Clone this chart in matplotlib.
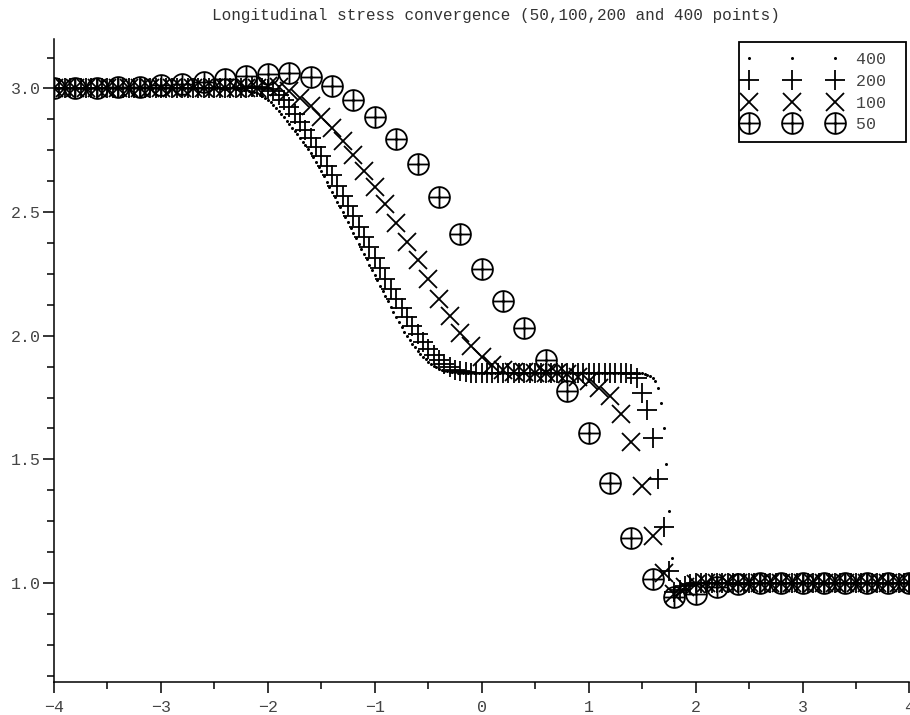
import numpy as np
import matplotlib
matplotlib.use("Agg")
import matplotlib.pyplot as plt
from matplotlib.path import Path
from matplotlib.lines import Line2D
from matplotlib.legend_handler import HandlerLine2D
from matplotlib.ticker import MultipleLocator, FormatStrFormatter

plt.rcParams["font.family"] = ["Liberation Mono", "DejaVu Sans Mono"]

title = "Longitudinal stress convergence (50,100,200 and 400 points)"
labels = ["400", "200", "100", "50"]

# 400 points, dx = 0.025 on [-4, 4]
stress_400 = (
    [3.0] * 68
    + [2.998, 2.997, 2.996, 2.994, 2.993, 2.990, 2.987, 2.984, 2.980, 2.975,
       2.969, 2.962, 2.955, 2.945, 2.934, 2.922, 2.910, 2.897, 2.883, 2.869,
       2.855, 2.841, 2.828, 2.814, 2.800, 2.785, 2.770, 2.755, 2.740, 2.722,
       2.703, 2.684, 2.665, 2.644, 2.623, 2.601, 2.580, 2.560, 2.540, 2.520,
       2.500, 2.479, 2.458, 2.436, 2.415, 2.394, 2.372, 2.351, 2.330, 2.309,
       2.288, 2.266, 2.245, 2.224, 2.203, 2.181, 2.160, 2.139, 2.118, 2.096,
       2.075, 2.055, 2.036, 2.017, 2.000, 1.984, 1.968, 1.953, 1.940, 1.927,
       1.915, 1.905, 1.895, 1.887, 1.879, 1.872, 1.866, 1.862, 1.859, 1.856,
       1.854, 1.853, 1.852, 1.851, 1.851]
    + [1.85] * 66
    + [1.849, 1.848, 1.846, 1.843, 1.838, 1.830, 1.815, 1.790, 1.730, 1.628,
       1.480, 1.290, 1.100, 0.985, 0.955, 0.962, 0.975, 0.987, 0.995, 0.999]
    + [1.0] * 82
)

# 200 points, dx = 0.05
stress_200 = (
    [3.0] * 36
    + [3.002, 3.004, 3.005, 3.003, 2.998, 2.990, 2.975, 2.952, 2.925, 2.895,
       2.865, 2.832, 2.800, 2.765, 2.727, 2.688, 2.648, 2.607, 2.566, 2.525,
       2.483, 2.441, 2.400, 2.357, 2.315, 2.272, 2.230, 2.190, 2.150, 2.111,
       2.075, 2.040, 2.006, 1.975, 1.946, 1.921, 1.900, 1.884, 1.872, 1.863,
       1.857, 1.853, 1.851]
    + [1.85] * 29
    + [1.846, 1.830, 1.770, 1.700, 1.585, 1.420, 1.225, 1.050, 0.965, 0.972,
       0.988, 0.996]
    + [1.0] * 41
)

# 100 points, dx = 0.1
stress_100 = (
    [3.0] * 20
    + [3.008, 3.005, 2.988, 2.962, 2.927, 2.886, 2.838, 2.788, 2.730, 2.668,
       2.600, 2.533, 2.456, 2.380, 2.305, 2.228, 2.150, 2.078, 2.010, 1.957,
       1.915, 1.880, 1.862, 1.855, 1.852]
    + [1.85] * 3
    + [1.845, 1.834, 1.815, 1.790, 1.755, 1.685, 1.572, 1.392, 1.190, 1.040,
       0.955, 0.982, 0.995]
    + [1.0] * 20
)

# 50 points, dx = 0.2
stress_50 = [3.0, 3.0, 3.002, 3.004, 3.007, 3.012, 3.018, 3.026, 3.038, 3.050,
             3.060, 3.062, 3.045, 3.010, 2.955, 2.885, 2.795, 2.695, 2.560, 2.410,
             2.270, 2.140, 2.030, 1.902, 1.776, 1.606, 1.406, 1.184, 1.016, 0.942,
             0.955, 0.985, 0.995, 1.0, 1.0, 1.0, 1.0, 1.0, 1.0, 1.0, 1.0]

x_400 = np.linspace(-4, 4, len(stress_400))
x_200 = np.linspace(-4, 4, len(stress_200))
x_100 = np.linspace(-4, 4, len(stress_100))
x_50 = np.linspace(-4, 4, len(stress_50))

# circle with a plus inside
oplus = Path.make_compound_path(
    Path.unit_circle(),
    Path([(-1, 0), (1, 0)], [Path.MOVETO, Path.LINETO]),
    Path([(0, -1), (0, 1)], [Path.MOVETO, Path.LINETO]),
)

fig = plt.figure(figsize=(9.1, 7.15), dpi=100)
ax = fig.add_axes([0.0593, 0.0462, 0.9401, 0.8993])

ax.plot(x_400, stress_400, ls="none", marker="o", ms=2.2, mfc="black", mec="black", mew=0, label=labels[0] + " ")
ax.plot(x_200, stress_200, ls="none", marker="+", ms=14, mew=1.3, color="black", label=labels[1] + " ")
ax.plot(x_100, stress_100, ls="none", marker="x", ms=13, mew=1.3, color="black", label=labels[2] + " ")
ax.plot(x_50, stress_50, ls="none", marker=oplus, ms=15, mfc="none", mec="black", mew=1.3, label=labels[3] + "  ")

ax.set_xlim(-4, 4)
ax.set_ylim(0.6, 3.2)
ax.xaxis.set_major_locator(MultipleLocator(1))
ax.xaxis.set_minor_locator(MultipleLocator(0.5))
ax.yaxis.set_major_locator(MultipleLocator(0.5))
ax.yaxis.set_minor_locator(MultipleLocator(0.125))
ax.yaxis.set_major_formatter(FormatStrFormatter("%.1f"))

ax.spines[["top", "right"]].set_visible(False)
for s in ["left", "bottom"]:
    ax.spines[s].set_linewidth(1.1)
ax.tick_params(which="major", length=8, width=1.1, direction="out", labelsize=12, labelcolor="#444")
ax.tick_params(which="minor", length=5, width=1.1, direction="out")
ax.tick_params(axis="y", which="major", pad=1.5)
ax.tick_params(axis="x", which="major", pad=5)

leg = ax.legend(loc="upper right", bbox_to_anchor=(0.9965, 0.995), numpoints=3,
                handlelength=5.15, handletextpad=1.3, borderpad=0.6, labelspacing=0.4,
                borderaxespad=0, fancybox=False, framealpha=1, edgecolor="black", fontsize=12,
                handler_map={Line2D: HandlerLine2D(marker_pad=0)})
leg.get_frame().set_linewidth(1.3)
for t in leg.get_texts():
    t.set_color("#444")

fig.text(0.545, 0.978, title, ha="center", va="center", fontsize=11.5, color="#333")

fig.savefig("out.png", dpi=100)
